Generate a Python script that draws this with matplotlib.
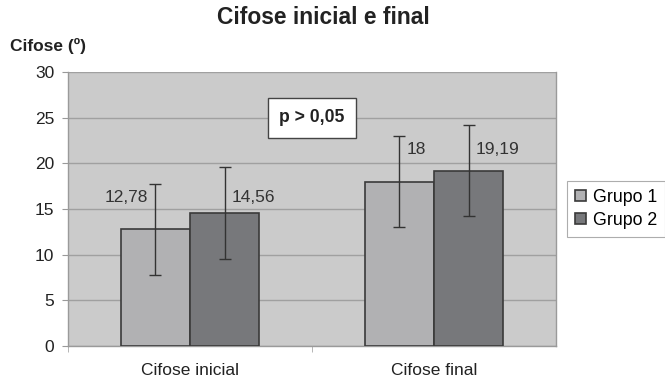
import numpy as np
import matplotlib
matplotlib.use("Agg")
import matplotlib.pyplot as plt

plt.rcParams['font.family'] = ['Liberation Sans', 'DejaVu Sans']

categories = ['Cifose inicial', 'Cifose final']
grupos = ['Grupo 1', 'Grupo 2']
grupo1 = [12.78, 18.0]
grupo2 = [14.56, 19.19]
erro1 = [5.0, 5.0]
erro2 = [5.0, 5.0]
labels1 = ['12,78', '18']
labels2 = ['14,56', '19,19']

cor1 = '#b1b1b3'
cor2 = '#77787b'

fig = plt.figure(figsize=(6.65, 3.79), dpi=100)
ax = fig.add_axes([68 / 665, 1 - 346 / 379, 488 / 665, 274 / 379])
ax.set_facecolor('#cbcbcb')

x = np.arange(len(categories))
w = 0.283
ax.bar(x - w / 2, grupo1, w, color=cor1, edgecolor='#3a3a3a', linewidth=1.2,
       label=grupos[0], zorder=3)
ax.bar(x + w / 2, grupo2, w, color=cor2, edgecolor='#3a3a3a', linewidth=1.2,
       label=grupos[1], zorder=3)
ax.errorbar(x - w / 2, grupo1, yerr=erro1, fmt='none', ecolor='#333333',
            elinewidth=1, capsize=4, capthick=1, zorder=4)
ax.errorbar(x + w / 2, grupo2, yerr=erro2, fmt='none', ecolor='#333333',
            elinewidth=1, capsize=4, capthick=1, zorder=4)

# rotulos dos valores
fs_val = 12.5
ax.text(x[0] - w / 2 - 0.03, grupo1[0] + 3.5, labels1[0], ha='right', va='center',
        fontsize=fs_val, color='#333333', zorder=5)
ax.text(x[0] + w / 2 + 0.03, grupo2[0] + 1.65, labels2[0], ha='left', va='center',
        fontsize=fs_val, color='#333333', zorder=5)
ax.text(x[1] - w / 2 + 0.03, grupo1[1] + 3.5, labels1[1], ha='left', va='center',
        fontsize=fs_val, color='#333333', zorder=5)
ax.text(x[1] + w / 2 + 0.03, grupo2[1] + 2.3, labels2[1], ha='left', va='center',
        fontsize=fs_val, color='#333333', zorder=5)

ax.text(0.5, 25, 'p > 0,05', ha='center', va='center', fontsize=12.7,
        fontweight='bold', color='#222222', zorder=6,
        bbox=dict(boxstyle='square,pad=0.65', facecolor='white',
                  edgecolor='#444444', linewidth=1))

ax.set_xlim(-0.5, 1.5)
ax.set_ylim(0, 30)
ax.set_yticks(np.arange(0, 31, 5))
ax.set_xticks(x)
ax.set_xticklabels(categories)
ax.set_xticks([-0.5, 0.5], minor=True)
ax.tick_params(axis='x', which='major', length=0, pad=12.5, labelsize=12.5,
               labelcolor='#222222')
ax.tick_params(axis='x', which='minor', length=4, color='#aaaaaa')
ax.tick_params(axis='y', length=4, color='#999999', labelsize=12.5,
               labelcolor='#222222', pad=6)
ax.yaxis.grid(True, color='#a0a0a0', linewidth=1, zorder=0)
ax.set_axisbelow(True)
ax.spines['top'].set_visible(False)
for s in ['left', 'bottom', 'right']:
    ax.spines[s].set_color('#9a9a9a')
    ax.spines[s].set_linewidth(1)

fig.text(323 / 665, 1 - 18 / 379, 'Cifose inicial e final', ha='center',
         va='center', fontsize=16.4, fontweight='bold', color='#222222')
fig.text(10 / 665, 1 - 46 / 379, 'Cifose (º)', ha='left', va='center',
         fontsize=12.5, fontweight='bold', color='#222222')

leg = fig.legend(loc='center left', bbox_to_anchor=(567 / 665, 1 - 209 / 379),
                 fontsize=12.8, frameon=True, fancybox=False, handlelength=0.6,
                 handleheight=0.6, handletextpad=0.4, borderpad=0.45,
                 labelspacing=0.35, borderaxespad=0)
leg.get_frame().set_edgecolor('#999999')
leg.get_frame().set_linewidth(0.8)

fig.savefig('out.png', dpi=100)
